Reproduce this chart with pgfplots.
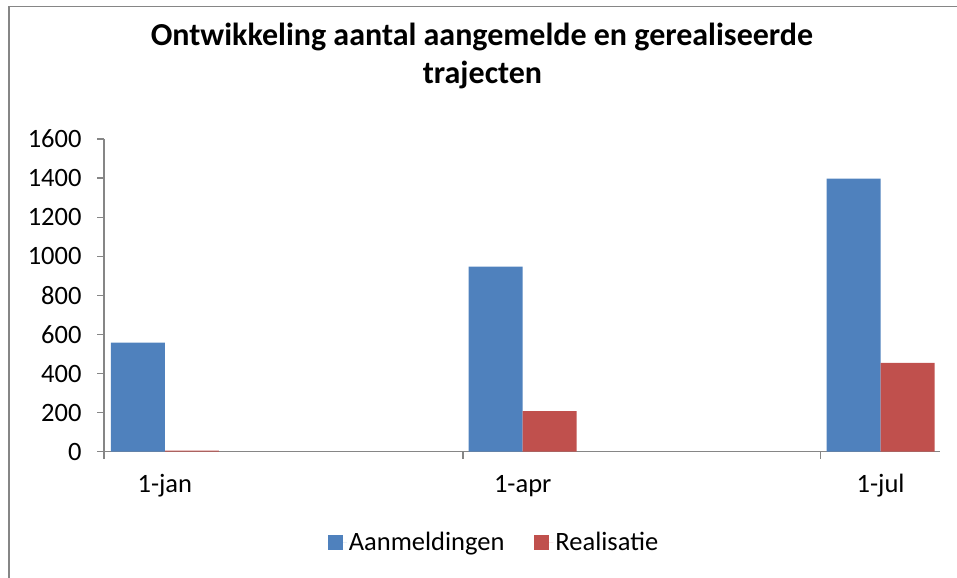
\documentclass[border=0pt]{standalone}
\usepackage{pgfplots}
\pgfplotsset{compat=1.18}
\usepackage{fontspec}
\setmainfont{Carlito}
\definecolor{cblue}{HTML}{4F81BD}
\definecolor{cred}{HTML}{C0504D}
\definecolor{axgray}{HTML}{868686}
\begin{document}
\begin{tikzpicture}[x=1bp,y=1bp]
\useasboundingbox (0,0) rectangle (957,578);
\draw[axgray, line width=1.5bp] (9,0) -- (9,571.3) -- (957,571.3);
\node[anchor=base, inner sep=0pt, font=\fontsize{32bp}{38bp}\selectfont\bfseries] at (482,532) {Ontwikkeling aantal aangemelde en gerealiseerde};
\node[anchor=base, inner sep=0pt, font=\fontsize{32bp}{38bp}\selectfont\bfseries] at (482.5,494.7) {trajecten};
\begin{axis}[
  at={(104bp,126.3bp)}, anchor=south west,
  scale only axis, width=836bp, height=312.7bp,
  xmin=-0.17, xmax=2.166, ymin=0, ymax=1600,
  ybar=0pt, bar width=54bp,
  axis x line=bottom, axis y line=left,
  axis line style={-, draw=axgray, line width=1.3bp},
  tick style={axgray, line width=1.3bp},
  tick align=outside, major tick length=7bp,
  xtick={-0.17,0.833,1.833}, xticklabels={},
  extra x ticks={0,1,2}, extra x tick labels={1-jan,1-apr,1-jul},
  extra x tick style={major tick length=0pt, xticklabel style={anchor=base, yshift=-41.3bp}},
  ytick={0,200,...,1600},
  /pgf/number format/assume math mode=true,
  /pgf/number format/1000 sep={},
  ticklabel style={font=\fontsize{26.5bp}{32bp}\selectfont, text=black},
  yticklabel style={anchor=east, xshift=-12bp},
  legend style={at={(0.4665,-0.289)}, anchor=center, draw=none, fill=none,
    legend columns=2, font=\fontsize{26.5bp}{32bp}\selectfont,
    /tikz/every even column/.append style={column sep=28bp}},
  legend image code/.code={\fill[#1] (0bp,-7.5bp) rectangle (15bp,7.5bp); \path (0bp,0bp) -- (19bp,0bp);},
]
\addplot[fill=cblue, draw=none] coordinates {(0,558) (1,947) (2,1397)};
\addplot[fill=cred, draw=none] coordinates {(0,5) (1,208) (2,455)};
\legend{Aanmeldingen,Realisatie}
\end{axis}
\end{tikzpicture}
\end{document}
